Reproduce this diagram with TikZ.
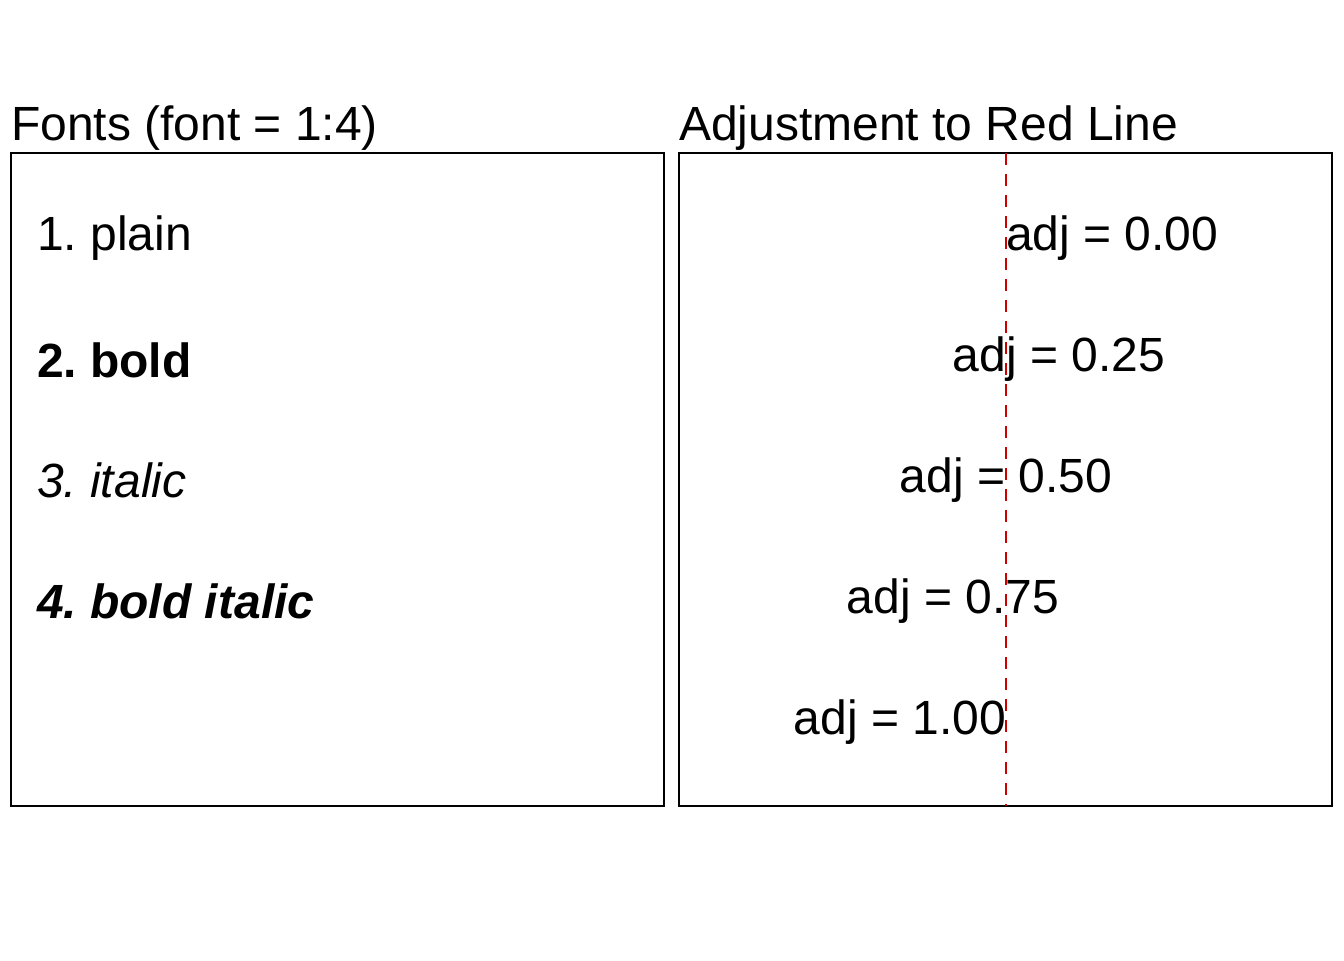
\documentclass[tikz,border=0pt]{standalone}
\usepackage{fontspec}
\setmainfont{Liberation Sans}
\frenchspacing
\newdimen\adjwidth
\begin{document}
\settowidth\adjwidth{\fontsize{24}{28}\selectfont adj = 0.00}
\begin{tikzpicture}[
    x=0.5pt, y=-0.5pt,
    every node/.style={inner sep=0pt, outer sep=0pt, anchor=base west, font=\fontsize{24}{28}\selectfont},
    panel/.style={draw, line width=0.75pt},
    redline/.style={draw={rgb,255:red,205;green,0;blue,0}, line width=0.75pt, dash pattern=on 6pt off 4.5pt}
]
\useasboundingbox (0,0) rectangle (1344,960);
% panel corners
\coordinate (leftnw) at (11,153);
\coordinate (leftse) at (664,806);
\coordinate (rightnw) at (679,153);
\coordinate (rightse) at (1332,806);
\coordinate (redtop) at (1006,153);
\coordinate (redbot) at (1006,806);
\draw[panel] (leftnw) rectangle (leftse);
\draw[panel] (rightnw) rectangle (rightse);
% titles
\node (fontstitle) at (11,140) {Fonts (font = 1:4)};
\node (adjtitle) at (679,140) {Adjustment to Red Line};
% left panel
\node (plain) at (37,250) {1. plain};
\node[font=\fontsize{24}{28}\selectfont\bfseries] (bold) at (37,377) {2. bold};
\node[font=\fontsize{24}{28}\selectfont\itshape] (italic) at (37,497) {3. italic};
\node[font=\fontsize{24}{28}\selectfont\bfseries\itshape] (bolditalic) at (37,618) {4. bold italic};
% right panel, every label has the same width
\foreach \a/\y in {0.00/250, 0.25/371, 0.50/492, 0.75/613, 1.00/734} {
    \node[xshift=-\a*\adjwidth] (adj\y) at (1006,\y) {adj = \a};
}
\draw[redline] (redtop) -- (redbot);
\end{tikzpicture}
\end{document}
